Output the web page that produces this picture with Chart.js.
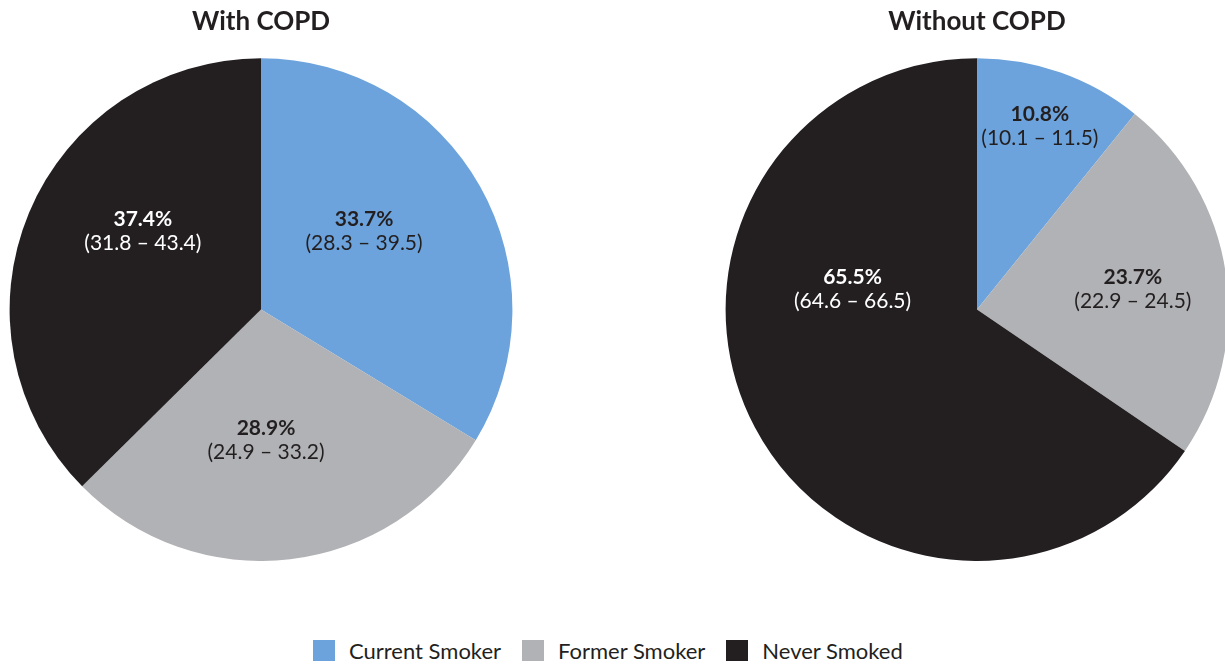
<!DOCTYPE html>
<html>
<head>
<meta charset="utf-8">
<script src="https://cdn.jsdelivr.net/npm/chart.js@4.4.1/dist/chart.umd.min.js"></script>
<style>
  html, body { margin: 0; padding: 0; background: #fff; overflow: hidden; width: 1225px; height: 664px; }
  .wrap { position: absolute; top: 0; width: 522px; height: 561px; }
  #legend { position: absolute; left: 313px; top: 637px; display: flex; align-items: center;
            font-family: Lato, "Open Sans", sans-serif; font-size: 22px; color: #231f20; }
  #legend span.box { display: inline-block; width: 22px; height: 21px; margin-right: 14px; }
  #legend span.lbl { margin-right: 21px; }
</style>
</head>
<body>
<div class="wrap" style="left:0px"><canvas id="leftPie"></canvas></div>
<div class="wrap" style="left:716px"><canvas id="rightPie"></canvas></div>
<div id="legend"></div>

<script>
// data
const categories = ["Current Smoker", "Former Smoker", "Never Smoked"];
const colors = ["#6ca3dc", "#b1b2b5", "#231f20"];
const textColors = ["#231f20", "#231f20", "#ffffff"];

const withCopd = [33.7, 28.9, 37.4];
const withCopdCI = ["(28.3 – 39.5)", "(24.9 – 33.2)", "(31.8 – 43.4)"];
const withoutCopd = [10.8, 23.7, 65.5];
const withoutCopdCI = ["(10.1 – 11.5)", "(22.9 – 24.5)", "(64.6 – 66.5)"];

// label placement, as fraction of radius from the pie centre
const withLabelPos = [[0.41, -0.31], [0.02, 0.52], [-0.47, -0.31]];
const withoutLabelPos = [[0.25, -0.73], [0.62, -0.08], [-0.495, -0.08]];

const FONT = "Lato, 'Open Sans', sans-serif";

const sliceLabels = {
    id: "sliceLabels",
    afterDatasetsDraw(chart, args, opts) {
        const ctx = chart.ctx;
        const meta = chart.getDatasetMeta(0);
        const ds = chart.data.datasets[0];
        meta.data.forEach((arc, i) => {
            const r = arc.outerRadius;
            const x = arc.x + opts.pos[i][0] * r;
            const y = arc.y + opts.pos[i][1] * r;
            ctx.save();
            ctx.fillStyle = textColors[i];
            ctx.textAlign = "center";
            ctx.textBaseline = "middle";
            ctx.font = "bold 21px " + FONT;
            ctx.fillText(ds.data[i].toFixed(1) + "%", x, y - 12);
            ctx.font = "21px " + FONT;
            ctx.fillText(opts.ci[i], x, y + 12);
            ctx.restore();
        });
    }
};

function makePie(id, title, values, ci, pos) {
    return new Chart(document.getElementById(id), {
        type: "pie",
        data: {
            labels: categories,
            datasets: [{ data: values, backgroundColor: colors, borderWidth: 0, hoverOffset: 0 }]
        },
        options: {
            responsive: true,
            maintainAspectRatio: false,
            animation: false,
            layout: { padding: 0 },
            plugins: {
                legend: { display: false },
                tooltip: { enabled: false },
                title: {
                    display: true,
                    text: title,
                    color: "#231f20",
                    font: { family: FONT, size: 26, weight: "bold" },
                    padding: { top: 6, bottom: 21 }
                },
                sliceLabels: { ci: ci, pos: pos }
            }
        },
        plugins: [sliceLabels]
    });
}

makePie("leftPie", "With COPD", withCopd, withCopdCI, withLabelPos);
makePie("rightPie", "Without COPD", withoutCopd, withoutCopdCI, withoutLabelPos);

// legend
const legend = document.getElementById("legend");
legend.innerHTML = categories.map((c, i) =>
    `<span class="box" style="background:${colors[i]}"></span><span class="lbl">${c}</span>`
).join("");
</script>
</body>
</html>
